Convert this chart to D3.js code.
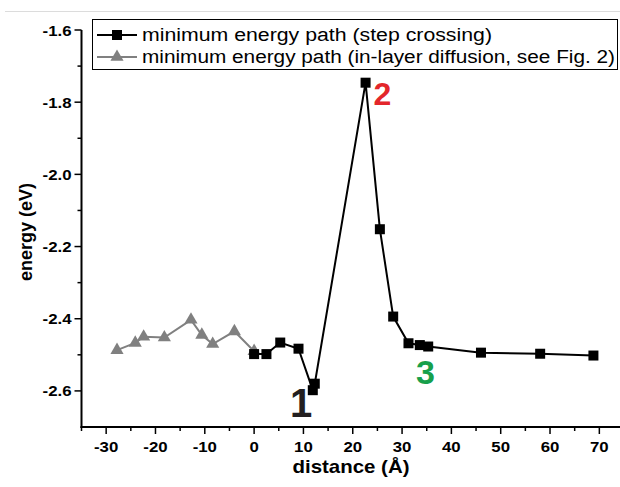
<!DOCTYPE html>
<html>
<head>
<meta charset="utf-8">
<script src="https://cdn.jsdelivr.net/npm/d3@7"></script>
<style>
  body { margin: 0; background: #fff; }
  svg { display: block; font-family: Arial, "Liberation Sans", sans-serif; }
</style>
</head>
<body>
<svg id="chart"></svg>
<script>
// step crossing path (black squares)
var stepX = [0, 2.5, 5.3, 9, 11.9, 12.3, 22.6, 25.5, 28.2, 31.3, 33.6, 35.3, 46, 58, 68.8];
var stepY = [-2.498, -2.498, -2.466, -2.483, -2.598, -2.58, -1.746, -2.152, -2.394, -2.468, -2.473, -2.477, -2.494, -2.497, -2.502];

// in-layer diffusion path (grey triangles)
var layerX = [-27.8, -24.1, -22.4, -18.2, -12.8, -10.6, -8.4, -4.0, 0];
var layerY = [-2.487, -2.467, -2.45, -2.452, -2.403, -2.445, -2.47, -2.435, -2.49];

var xTicks = [-30, -20, -10, 0, 10, 20, 30, 40, 50, 60, 70];
var yTicks = [-1.6, -1.8, -2.0, -2.2, -2.4, -2.6];
var legendNames = ["minimum energy path (step crossing)", "minimum energy path (in-layer diffusion, see Fig. 2)"];
var pointLabels = ["1", "2", "3"];

var svgWidth = 620;
var svgHeight = 487;

var svg = d3.select("#chart")
  .attr("width", svgWidth)
  .attr("height", svgHeight);

// the picture is a bit wider than tall, so text gets stretched sideways
function stretch(sel, k) {
  sel.each(function() {
    var w = this.getComputedTextLength();
    d3.select(this).attr("textLength", w * k).attr("lengthAdjust", "spacingAndGlyphs");
  });
}

// faint rule at the very top
svg.append("line")
  .attr("x1", 5).attr("x2", 620)
  .attr("y1", 11.5).attr("y2", 11.5)
  .attr("stroke", "#dcdcdc")
  .attr("stroke-width", 1);

var x = d3.scaleLinear().domain([-35, 75]).range([81.5, 624]);
var y = d3.scaleLinear().domain([-2.7, -1.6]).range([427, 30]);

var fmt = function(d) { return d3.format(".1f")(d).replace("\u2212", "-"); };

// y axis
var yAxis = svg.append("g").attr("transform", "translate(" + x(-35) + ",0)");
yAxis.append("line")
  .attr("y1", y(-1.6)).attr("y2", y(-2.7) + 1)
  .attr("stroke", "#000").attr("stroke-width", 2);
yAxis.selectAll(".minor")
  .data(d3.range(-1.7, -2.65, -0.2))
  .enter().append("line")
  .attr("x1", -4).attr("x2", 0)
  .attr("y1", function(d) { return y(d); }).attr("y2", function(d) { return y(d); })
  .attr("stroke", "#000").attr("stroke-width", 1.5);
yAxis.selectAll(".major")
  .data(yTicks)
  .enter().append("line")
  .attr("x1", -7).attr("x2", 0)
  .attr("y1", function(d) { return y(d); }).attr("y2", function(d) { return y(d); })
  .attr("stroke", "#000").attr("stroke-width", 1.5);
yAxis.selectAll("text")
  .data(yTicks)
  .enter().append("text")
  .attr("x", -10)
  .attr("y", function(d) { return y(d) + 5.5; })
  .attr("text-anchor", "end")
  .attr("font-size", "15px")
  .attr("font-weight", "bold")
  .text(fmt)
  .call(stretch, 1.12);

// x axis
var xAxis = svg.append("g").attr("transform", "translate(0," + y(-2.7) + ")");
xAxis.append("line")
  .attr("x1", x(-35) - 1).attr("x2", 620)
  .attr("stroke", "#000").attr("stroke-width", 2);
xAxis.selectAll(".minor")
  .data(d3.range(-35, 76, 10))
  .enter().append("line")
  .attr("x1", function(d) { return x(d); }).attr("x2", function(d) { return x(d); })
  .attr("y1", 0).attr("y2", 4)
  .attr("stroke", "#000").attr("stroke-width", 1.5);
xAxis.selectAll(".major")
  .data(xTicks)
  .enter().append("line")
  .attr("x1", function(d) { return x(d); }).attr("x2", function(d) { return x(d); })
  .attr("y1", 0).attr("y2", 7)
  .attr("stroke", "#000").attr("stroke-width", 1.5);
xAxis.selectAll("text")
  .data(xTicks)
  .enter().append("text")
  .attr("x", function(d) { return x(d); })
  .attr("y", 25)
  .attr("text-anchor", "middle")
  .attr("font-size", "15px")
  .attr("font-weight", "bold")
  .text(function(d) { return String(d); })
  .call(stretch, 1.12);

// axis titles
svg.append("text")
  .attr("x", 351).attr("y", 473)
  .attr("text-anchor", "middle")
  .attr("font-size", "19px")
  .attr("font-weight", "bold")
  .attr("textLength", 117)
  .attr("lengthAdjust", "spacingAndGlyphs")
  .text("distance (\u00c5)");
svg.append("text")
  .attr("transform", "translate(32,232) rotate(-90)")
  .attr("text-anchor", "middle")
  .attr("font-size", "18px")
  .attr("font-weight", "bold")
  .text("energy (eV)");

var line = d3.line()
  .x(function(d) { return x(d[0]); })
  .y(function(d) { return y(d[1]); });

var layerData = d3.zip(layerX, layerY);
var stepData = d3.zip(stepX, stepY);

var tri = d3.symbol().type(d3.symbolTriangle).size(75);

svg.append("path")
  .datum(layerData)
  .attr("d", line)
  .attr("fill", "none")
  .attr("stroke", "#808080")
  .attr("stroke-width", 2);
svg.selectAll(".tri")
  .data(layerData)
  .enter().append("path")
  .attr("d", tri)
  .attr("transform", function(d) { return "translate(" + x(d[0]) + "," + y(d[1]) + ")"; })
  .attr("fill", "#808080");

svg.append("path")
  .datum(stepData)
  .attr("d", line)
  .attr("fill", "none")
  .attr("stroke", "#000")
  .attr("stroke-width", 2);
svg.selectAll(".sq")
  .data(stepData)
  .enter().append("rect")
  .attr("x", function(d) { return x(d[0]) - 5; })
  .attr("y", function(d) { return y(d[1]) - 5; })
  .attr("width", 10)
  .attr("height", 10)
  .attr("fill", "#000");

// numbered labels
var labelPos = [[7.3, -2.672], [24.2, -1.808], [32.8, -2.582]];
var labelColors = ["#231f20", "#e3262b", "#17a04b"];
var labelSizes = ["40px", "32px", "34px"];
svg.selectAll(".num")
  .data(pointLabels)
  .enter().append("text")
  .attr("x", function(d, i) { return x(labelPos[i][0]); })
  .attr("y", function(d, i) { return y(labelPos[i][1]); })
  .attr("fill", function(d, i) { return labelColors[i]; })
  .attr("font-size", function(d, i) { return labelSizes[i]; })
  .attr("font-weight", "bold")
  .text(function(d) { return d; });

// legend
var legend = svg.append("g");
legend.append("rect")
  .attr("x", 92.5).attr("y", 19.5)
  .attr("width", 525).attr("height", 50)
  .attr("fill", "#fff")
  .attr("stroke", "#000")
  .attr("stroke-width", 1);
var legendColors = ["#000", "#808080"];
var legendWidths = [350, 473];
legendNames.forEach(function(name, i) {
  var ly = 35 + i * 22;
  legend.append("line")
    .attr("x1", 97).attr("x2", 137)
    .attr("y1", ly).attr("y2", ly)
    .attr("stroke", legendColors[i]).attr("stroke-width", 2);
  if (i === 0) {
    legend.append("rect")
      .attr("x", 112).attr("y", ly - 5)
      .attr("width", 10).attr("height", 10)
      .attr("fill", "#000");
  } else {
    legend.append("path")
      .attr("d", tri)
      .attr("transform", "translate(117," + ly + ")")
      .attr("fill", "#808080");
  }
  legend.append("text")
    .attr("x", 142).attr("y", ly + 6)
    .attr("font-size", "18px")
    .attr("fill", "#000")
    .attr("textLength", legendWidths[i])
    .attr("lengthAdjust", "spacingAndGlyphs")
    .text(name);
});
</script>
</body>
</html>
